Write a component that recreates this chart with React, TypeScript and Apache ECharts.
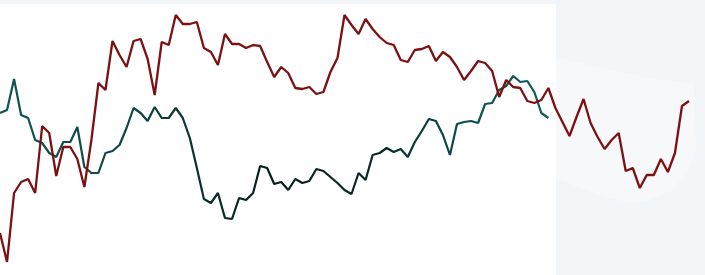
import React, { useEffect, useRef } from "react";
import * as echarts from "echarts";

const categories: number[] = Array.from({ length: 99 }, (_, i) => i);

const redSeries: number[] = [
  42, 13, 82, 93, 96, 82, 149, 142, 99, 128,
  128, 116, 88, 135, 192, 185, 234, 220, 208, 234,
  236, 216, 180, 233, 230, 260, 251, 251, 253, 227,
  223, 210, 241, 231, 231, 227, 230, 229, 213, 198,
  208, 202, 187, 186, 188, 181, 183, 203, 217, 260,
  250, 241, 256, 246, 238, 232, 230, 215, 213, 225,
  226, 229, 214, 223, 218, 208, 195, 204, 214, 212,
  204, 178, 195, 188, 187, 174, 172, 175, 187, 167,
  153, 139, 158, 176, 152, 138, 126, 135, 142, 104,
  107, 87, 100, 100, 116, 103, 122, 169, 174,
];

const tealSeries: number[] = [
  162, 165, 196, 160, 157, 135, 132, 122, 118, 133,
  133, 148, 108, 102, 102, 122, 124, 130, 147, 167,
  162, 154, 168, 157, 157, 167, 157, 137, 107, 76,
  72, 82, 57, 56, 77, 75, 82, 109, 107, 91,
  93, 85, 96, 92, 94, 106, 104, 98, 92, 85,
  81, 102, 95, 120, 122, 127, 123, 126, 118, 133,
  144, 156, 154, 140, 120, 151, 153, 154, 152, 171,
  172, 185, 189, 199, 193, 194, 183, 162, 157,
];

export default function App() {
  const ref = useRef<HTMLDivElement>(null);
  useEffect(() => {
    if (!ref.current) return;
    const chart = echarts.init(ref.current, undefined, { renderer: "svg" });
    chart.setOption({
      animation: false,
      backgroundColor: "#f3f6f8",
      graphic: [
        {
          type: "polygon",
          silent: true,
          z: -10,
          shape: {
            points: [
              [556, 57], [580, 63], [610, 70], [650, 78], [680, 82], [694, 84],
              [696, 150], [688, 172], [672, 190], [650, 200], [630, 203],
              [605, 197], [580, 188], [556, 178],
            ],
          },
          style: { fill: "#f6f8f9" },
        },
        {
          type: "rect",
          silent: true,
          z: -9,
          shape: { x: 0, y: 4, width: 556, height: 271 },
          style: { fill: "#ffffff" },
        },
      ],
      grid: { left: 0, top: 0, width: 689, height: 275, containLabel: false },
      xAxis: {
        type: "category",
        data: categories,
        boundaryGap: false,
        show: false,
      },
      yAxis: {
        type: "value",
        min: 0,
        max: 275,
        show: false,
        splitLine: { show: false },
      },
      series: [
        {
          type: "line",
          data: redSeries,
          symbol: "none",
          lineStyle: { color: "#7d1012", width: 2.3 },
          z: 3,
        },
        {
          type: "line",
          data: tealSeries,
          symbol: "none",
          lineStyle: {
            width: 2.2,
            color: new echarts.graphic.LinearGradient(0, 0, 1, 0, [
              { offset: 0, color: "#0e5553" },
              { offset: 0.25, color: "#0c4544" },
              { offset: 0.45, color: "#071f1e" },
              { offset: 0.7, color: "#092827" },
              { offset: 0.85, color: "#0e4f4d" },
              { offset: 1, color: "#115c5c" },
            ]),
          },
          z: 2,
        },
      ],
    });
    return () => chart.dispose();
  }, []);
  return (
    <div
      ref={ref}
      style={{ position: "fixed", left: 0, top: 0, width: 705, height: 275 }}
    />
  );
}
